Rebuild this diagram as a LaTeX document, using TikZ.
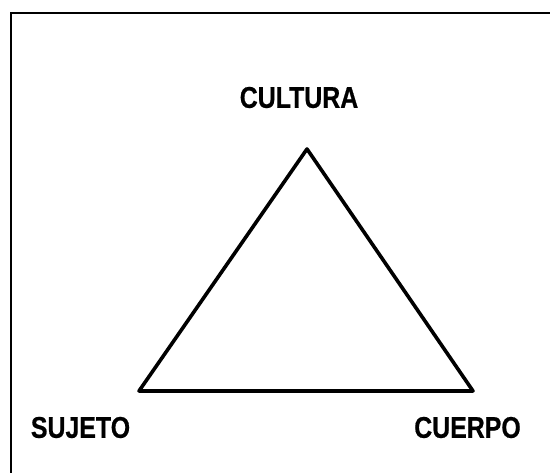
\documentclass[tikz,border=0pt]{standalone}
\usepackage{fontspec}
\setmainfont{Liberation Sans}[FakeStretch=0.83,BoldFeatures={FakeBold=0.6}]
\begin{document}
\begin{tikzpicture}[x=1pt,y=-1pt,
  lbl/.style={inner sep=0pt,font=\fontsize{30}{32}\selectfont\bfseries},
  edge/.style={line width=3.6pt,line join=round},
  frame/.style={line width=2.4pt}]
\useasboundingbox (0,0) rectangle (550,473);
\coordinate (fb) at (11,474);
\coordinate (ftl) at (11,13);
\coordinate (fr) at (551,13);
\draw[frame] (fb) -- (ftl) -- (fr);
\coordinate (apex) at (307,149);
\coordinate (bl) at (139,391);
\coordinate (br) at (473,391);
\draw[edge] (apex) -- (bl) -- (br) -- cycle;
\node[lbl] (cultura) at (299,97.5) {CULTURA};
\node[lbl] (sujeto) at (80.5,427.5) {SUJETO};
\node[lbl] (cuerpo) at (467.5,427.5) {CUERPO};
\end{tikzpicture}
\end{document}
